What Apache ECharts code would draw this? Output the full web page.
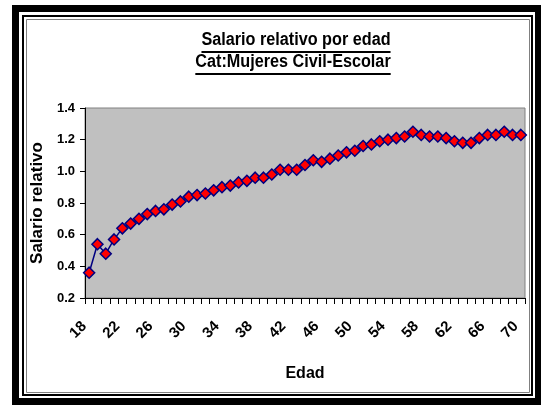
<!DOCTYPE html>
<html>
<head>
<meta charset="utf-8">
<script src="https://cdn.jsdelivr.net/npm/echarts@6/dist/echarts.min.js"></script>
<style>
  html, body { margin: 0; padding: 0; background: #fff; }
  #main { width: 541px; height: 405px; }
</style>
</head>
<body>
<div id="main"></div>
<script>
var edades = [18, 19, 20, 21, 22, 23, 24, 25, 26, 27, 28, 29, 30, 31, 32, 33, 34, 35,
  36, 37, 38, 39, 40, 41, 42, 43, 44, 45, 46, 47, 48, 49, 50, 51, 52, 53,
  54, 55, 56, 57, 58, 59, 60, 61, 62, 63, 64, 65, 66, 67, 68, 69, 70];

var salarioRelativo = [0.36, 0.54, 0.48, 0.57, 0.64, 0.67, 0.70, 0.73, 0.75, 0.76,
  0.79, 0.81, 0.84, 0.85, 0.86, 0.88, 0.90, 0.91, 0.93, 0.94,
  0.96, 0.96, 0.98, 1.01, 1.01, 1.01, 1.04, 1.07, 1.06, 1.08,
  1.10, 1.12, 1.13, 1.16, 1.17, 1.19, 1.20, 1.21, 1.22, 1.25,
  1.23, 1.22, 1.22, 1.21, 1.19, 1.18, 1.18, 1.21, 1.23, 1.23,
  1.25, 1.23, 1.23];

var titulos = ['Salario relativo por edad', 'Cat:Mujeres Civil-Escolar'];

var narrow = "'Liberation Sans Narrow', 'Liberation Sans', Arial, sans-serif";
var regular = "'Liberation Sans', Arial, sans-serif";

var chart = echarts.init(document.getElementById('main'));

// title lines with underline (ECharts has no text-decoration),
// squeezed a bit to look like the condensed original font
function titleLine(text, cx, baseY, sx) {
  var font = 'bold 18px ' + regular;
  var t = new echarts.graphic.Text({ style: { text: text, font: font } });
  var w = t.getBoundingRect().width * sx;
  return [
    { type: 'text', x: cx, y: baseY, scaleX: sx,
      style: { text: text, font: font, fill: '#000', align: 'center', verticalAlign: 'bottom' } },
    { type: 'line', shape: { x1: cx - w / 2, y1: baseY + 3, x2: cx + w / 2, y2: baseY + 3 },
      style: { stroke: '#000', lineWidth: 2 } }
  ];
}

var frame = [
  { type: 'rect', shape: { x: 12, y: 5, width: 529, height: 400 }, style: { fill: '#000' }, z: -10 },
  { type: 'rect', shape: { x: 19, y: 12, width: 516, height: 386 }, style: { fill: '#fff' }, z: -9 },
  { type: 'rect', shape: { x: 23, y: 16, width: 509, height: 379 }, style: { fill: 'none', stroke: '#000', lineWidth: 2 }, z: -8 },
  { type: 'rect', shape: { x: 26.5, y: 19.5, width: 503, height: 373 }, style: { fill: 'none', stroke: '#808080', lineWidth: 1 }, z: -8 }
];

var option = {
  animation: false,
  backgroundColor: '#fff',
  graphic: frame.concat(titleLine(titulos[0], 296, 49, 0.9), titleLine(titulos[1], 293, 71, 0.9)),
  grid: {
    left: 85, right: 16, top: 108, bottom: 107,
    show: true,
    backgroundColor: '#c0c0c0',
    borderColor: '#808080',
    borderWidth: 1
  },
  xAxis: {
    type: 'category',
    data: edades,
    boundaryGap: true,
    name: 'Edad',
    nameLocation: 'middle',
    nameGap: 68,
    nameTextStyle: { fontFamily: regular, fontWeight: 'bold', fontSize: 16, color: '#000' },
    axisLine: { lineStyle: { color: '#000', width: 1 } },
    axisTick: { show: true, interval: 0, length: 6, lineStyle: { color: '#000', width: 1 } },
    axisLabel: {
      interval: 3,
      rotate: 45,
      margin: 21,
      padding: [0, 7, 0, 0],
      fontFamily: regular,
      fontWeight: 'bold',
      fontSize: 15,
      color: '#000'
    },
    splitLine: { show: false }
  },
  yAxis: {
    type: 'value',
    min: 0.2,
    max: 1.4,
    interval: 0.2,
    name: 'Salario relativo',
    nameLocation: 'middle',
    nameGap: 35,
    nameRotate: 90,
    nameTextStyle: { fontFamily: regular, fontWeight: 'bold', fontSize: 17, color: '#000' },
    axisLine: { show: true, lineStyle: { color: '#000', width: 1 } },
    axisTick: { show: true, length: 5, lineStyle: { color: '#000' } },
    axisLabel: {
      margin: 10,
      fontFamily: narrow,
      fontWeight: 'bold',
      fontSize: 13,
      color: '#000',
      formatter: function (v) { return v.toFixed(1); }
    },
    splitLine: { show: false }
  },
  series: [{
    type: 'line',
    data: salarioRelativo,
    showAllSymbol: true,
    symbol: 'diamond',
    symbolSize: 11,
    lineStyle: { color: '#000080', width: 1.5 },
    itemStyle: { color: '#ff0000', borderColor: '#000080', borderWidth: 1.5 }
  }]
};

chart.setOption(option);
</script>
</body>
</html>
